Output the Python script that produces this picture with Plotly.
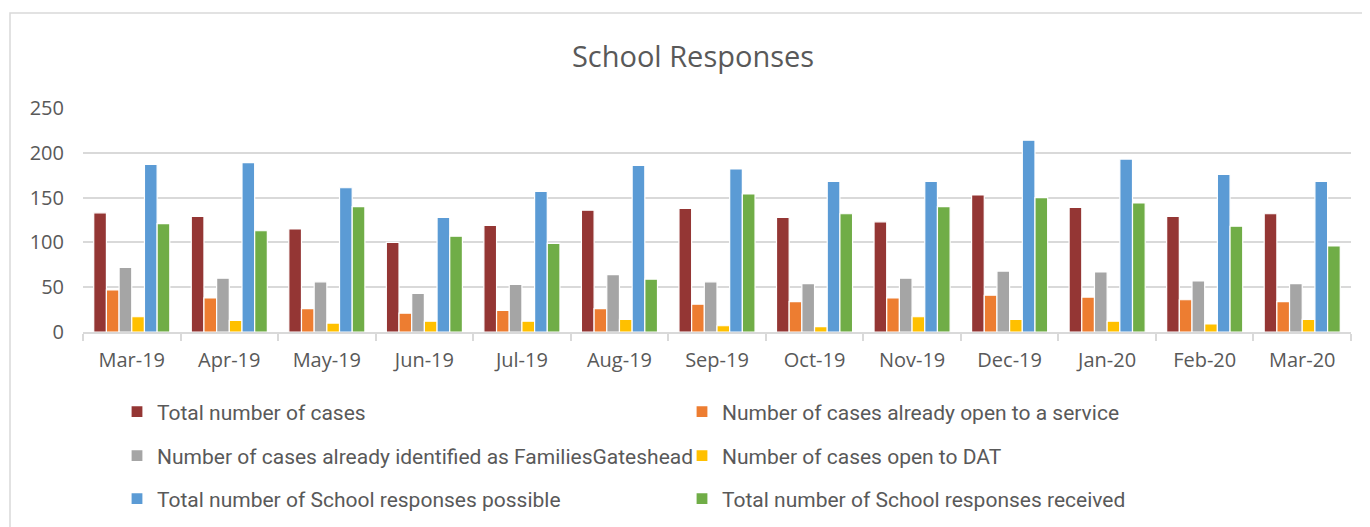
import plotly.graph_objects as go

months = ["Mar-19", "Apr-19", "May-19", "Jun-19", "Jul-19", "Aug-19", "Sep-19",
          "Oct-19", "Nov-19", "Dec-19", "Jan-20", "Feb-20", "Mar-20"]

total_cases = [133, 129, 115, 100, 119, 136, 138, 128, 123, 153, 139, 129, 132]
open_to_service = [47, 38, 26, 21, 24, 26, 31, 34, 38, 41, 39, 36, 34]
families_gateshead = [72, 60, 56, 43, 53, 64, 56, 54, 60, 68, 67, 57, 54]
open_to_dat = [17, 13, 10, 12, 12, 14, 7, 6, 17, 14, 12, 9, 14]
responses_possible = [187, 189, 161, 128, 157, 186, 182, 168, 168, 214, 193, 176, 168]
responses_received = [121, 113, 140, 107, 99, 59, 154, 132, 140, 150, 144, 118, 96]

series = [
    ("Total number of cases", total_cases, "#943634", "legend"),
    ("Number of cases already open to a service", open_to_service, "#ED7D31", "legend"),
    ("Number of cases already identified as FamiliesGateshead", families_gateshead, "#A5A5A5", "legend2"),
    ("Number of cases open to DAT", open_to_dat, "#FFC000", "legend2"),
    ("Total number of School responses possible", responses_possible, "#5B9BD5", "legend3"),
    ("Total number of School responses received", responses_received, "#70AD47", "legend3"),
]

OFF = 8  # page offset of the figure in the window
W, H = 1370, 527
L, R, T, B = 83 - OFF, W - (1351 - OFF), 108 - OFF, H - (332 - OFF)
pw, ph = W - L - R, H - T - B

def px_x(sx):
    return (sx - OFF - L) / pw

def px_y(sy):
    return (H - B - (sy - OFF)) / ph

fig = go.Figure()
for name, vals, color, lg in series:
    fig.add_trace(go.Bar(
        x=months, y=vals, name=name,
        marker=dict(color=color, line=dict(color="white", width=1.2)),
        legend=lg,
    ))

font_main = "Open Sans, Segoe UI, sans-serif"
leg_font = dict(family="Roboto, sans-serif", size=21, color="#595959")

def leg(ypx):
    return dict(
        orientation="h", x=px_x(117), xanchor="left",
        y=px_y(ypx), yanchor="middle",
        entrywidth=520, entrywidthmode="pixels",
        font=leg_font, itemwidth=30, bgcolor="rgba(0,0,0,0)",
        traceorder="normal",
    )

fig.update_layout(
    width=W, height=H,
    margin=dict(l=L, r=R, t=T, b=B),
    paper_bgcolor="white", plot_bgcolor="white",
    title=dict(text="School Responses", x=0.5, xanchor="center",
               y=1 - (57 - OFF) / H, yanchor="middle",
               font=dict(family=font_main, size=29, color="#595959")),
    barmode="group", bargap=0.22, bargroupgap=0.0,
    legend=leg(412), legend2=leg(456), legend3=leg(499),
    showlegend=True,
    xaxis=dict(
        showgrid=False, showline=True, linecolor="#D9D9D9", linewidth=1.5,
        ticks="outside", tickson="boundaries", ticklen=7, tickcolor="#D9D9D9",
        tickwidth=1.5, tickfont=dict(family=font_main, size=20, color="#595959"),
        ticklabelstandoff=9,
    ),
    yaxis=dict(
        range=[0, 250], tickvals=[0, 50, 100, 150, 200, 250],
        showgrid=True, gridcolor="#D9D9D9", gridwidth=1.5, zeroline=False,
        showline=False, ticks="",
        tickfont=dict(family=font_main, size=20, color="#595959"),
        ticklabelstandoff=18,
    ),
    shapes=[dict(
        type="rect", xref="paper", yref="paper",
        x0=px_x(10), x1=px_x(W + 30),
        y0=px_y(H + 30), y1=px_y(13),
        line=dict(color="#D9D9D9", width=1.5), fillcolor="rgba(0,0,0,0)",
        layer="below",
    )],
)

fig.write_html("out.html")
